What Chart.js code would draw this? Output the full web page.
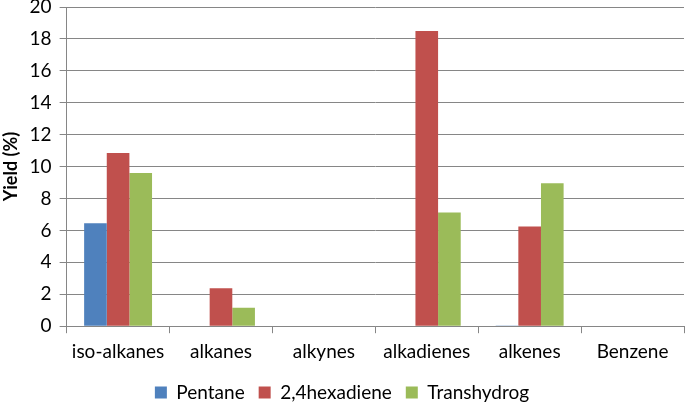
<!DOCTYPE html>
<html>
<head>
<meta charset="utf-8">
<script src="https://cdn.jsdelivr.net/npm/chart.js@4/dist/chart.umd.min.js"></script>
<style>
	html, body { margin: 0; padding: 0; background: #fff; }
	#wrap { width: 685px; height: 405px; }
</style>
</head>
<body>
<div id="wrap"><canvas id="chart"></canvas></div>
<script>
const categories = ["iso-alkanes", "alkanes", "alkynes", "alkadienes", "alkenes", "Benzene"];
const pentane = [6.45, 0, 0, 0, 0.05, 0];
const hexadiene = [10.85, 2.38, 0, 18.5, 6.25, 0];
const transhydrog = [9.6, 1.15, 0, 7.13, 8.95, 0];

const gridColor = "#868686";
const font = { family: "Lato, 'Open Sans', sans-serif", size: 19 };

const context = document.getElementById("chart").getContext("2d");
const chart = new Chart(context, {
	type: "bar",
	data: {
		labels: categories,
		datasets: [
			{ label: "Pentane", data: pentane, backgroundColor: "#4F81BD" },
			{ label: "2,4hexadiene", data: hexadiene, backgroundColor: "#C0504D" },
			{ label: "Transhydrog", data: transhydrog, backgroundColor: "#9BBB59" }
		]
	},
	options: {
		responsive: true,
		maintainAspectRatio: false,
		animation: false,
		categoryPercentage: 0.66,
		barPercentage: 1,
		layout: { padding: { top: 7, right: 1, left: 0, bottom: -7 } },
		scales: {
			x: {
				afterFit: (scale) => { scale.height -= 1; },
				grid: {
					offset: true,
					drawOnChartArea: false,
					color: gridColor,
					tickLength: 7
				},
				border: { color: gridColor },
				ticks: { color: "#000", font, padding: 7 }
			},
			y: {
				min: 0,
				max: 20,
				afterFit: (scale) => { scale.paddingTop = 0; scale.paddingBottom = 0; },
				ticks: { stepSize: 2, color: "#000", font, padding: 8 },
				grid: { color: gridColor, tickLength: 7 },
				border: { color: gridColor },
				title: {
					display: true,
					text: "Yield (%)",
					color: "#000",
					font: { family: font.family, size: 18, weight: "bold" },
					padding: 0
				}
			}
		},
		plugins: {
			legend: {
				position: "bottom",
				labels: {
					boxWidth: 12,
					boxHeight: 12,
					color: "#000",
					font,
					padding: 14
				}
			},
			tooltip: { enabled: false }
		}
	}
});
</script>
</body>
</html>
